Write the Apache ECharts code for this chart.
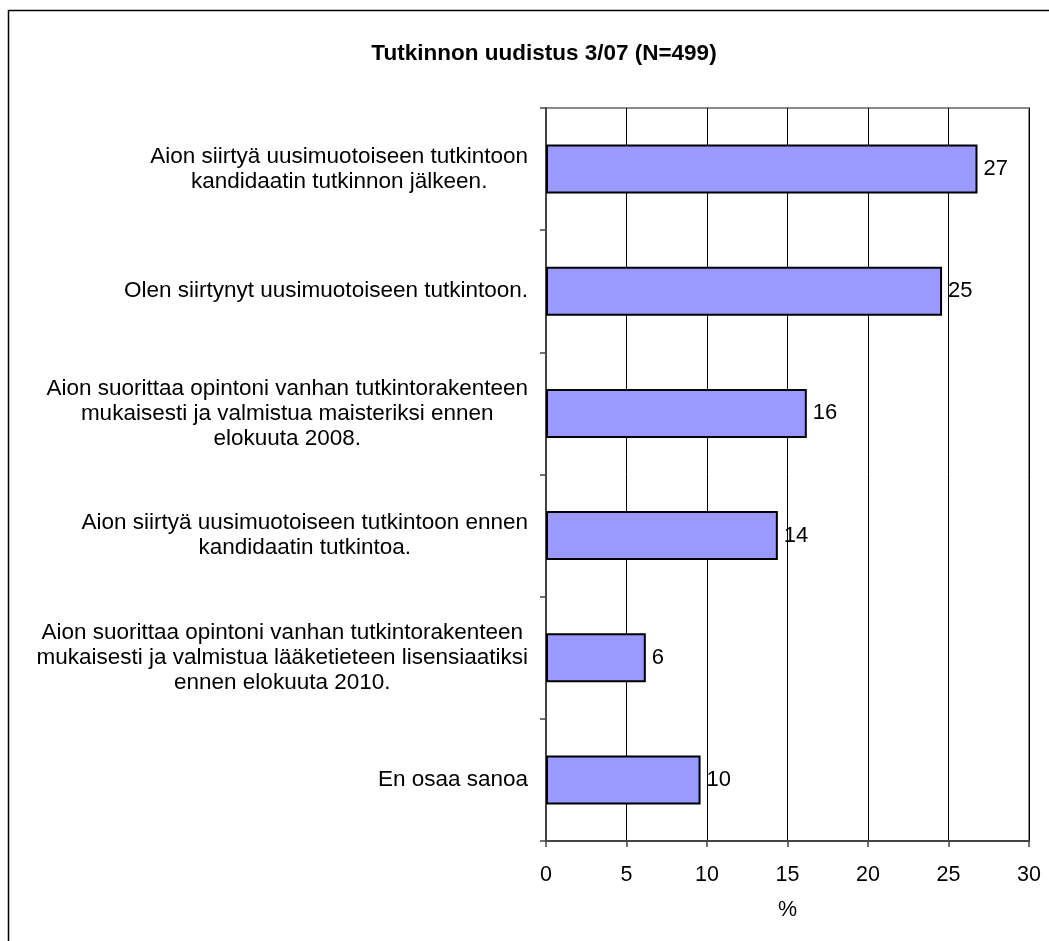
<!DOCTYPE html>
<html>
<head>
<meta charset="utf-8">
<script src="https://cdn.jsdelivr.net/npm/echarts@6.0.0/dist/echarts.min.js"></script>
<style>
html,body{margin:0;padding:0;background:#fff;}
#chart{width:1049px;height:941px;}
</style>
</head>
<body>
<div id="chart"></div>
<script>
var titleText = 'Tutkinnon uudistus 3/07 (N=499)';
var categories = [
  'Aion siirtyä uusimuotoiseen tutkintoon\nkandidaatin tutkinnon jälkeen.',
  'Olen siirtynyt uusimuotoiseen tutkintoon.',
  'Aion suorittaa opintoni vanhan tutkintorakenteen\nmukaisesti ja valmistua maisteriksi ennen\nelokuuta 2008.',
  'Aion siirtyä uusimuotoiseen tutkintoon ennen\nkandidaatin tutkintoa.',
  'Aion suorittaa opintoni vanhan tutkintorakenteen\nmukaisesti ja valmistua lääketieteen lisensiaatiksi\nennen elokuuta 2010.',
  'En osaa sanoa'
];
var values = [26.8, 24.6, 16.2, 14.4, 6.2, 9.6];
var axisName = '%';

var FONT = '"Liberation Sans", Arial, sans-serif';
var chart = echarts.init(document.getElementById('chart'), null, {renderer: 'canvas'});
chart.setOption({
  backgroundColor: '#fff',
  animation: false,
  title: {
    text: titleText,
    left: 539,
    textAlign: 'center',
    top: 37,
    textStyle: {fontFamily: FONT, fontSize: 22.5, fontWeight: 'bold', color: '#000'}
  },
  graphic: [{
    type: 'rect',
    shape: {x: 8.5, y: 10.5, width: 1200, height: 1200},
    style: {fill: 'none', stroke: '#000', lineWidth: 1.5},
    silent: true
  }],
  grid: {
    left: 546, top: 108, right: 20, bottom: 100,
    show: true, borderColor: '#8a8a8a', borderWidth: 2, backgroundColor: 'transparent'
  },
  xAxis: {
    type: 'value',
    min: 0, max: 30, interval: 5,
    name: axisName,
    nameLocation: 'middle',
    nameGap: 58,
    nameTextStyle: {fontFamily: FONT, fontSize: 21.5, color: '#000'},
    axisLine: {show: true, lineStyle: {color: '#444', width: 2}},
    axisTick: {show: true, length: 6, lineStyle: {color: '#444', width: 1.5}},
    axisLabel: {fontFamily: FONT, fontSize: 21.5, color: '#000', margin: 23},
    splitLine: {show: true, lineStyle: {color: '#000', width: 1}}
  },
  yAxis: {
    type: 'category',
    inverse: true,
    data: categories,
    axisLine: {show: true, lineStyle: {color: '#444', width: 2}},
    axisTick: {show: true, length: 6, lineStyle: {color: '#444', width: 1.5}},
    axisLabel: {
      margin: 18,
      formatter: function (v) {
        return v.split('\n').map(function (l) { return '{c|' + l + '}'; }).join('\n');
      },
      rich: {c: {align: 'center', fontFamily: FONT, fontSize: 22.5, lineHeight: 25, color: '#000'}}
    },
    splitLine: {show: false}
  },
  series: [{
    type: 'bar',
    data: values,
    barWidth: 49,
    itemStyle: {color: '#9999FF', borderColor: '#000', borderWidth: 2},
    label: {
      show: true,
      position: 'right',
      distance: 6,
      fontFamily: FONT, fontSize: 22, color: '#000',
      formatter: function (p) { return Math.round(p.value); }
    }
  }]
});
</script>
</body>
</html>
